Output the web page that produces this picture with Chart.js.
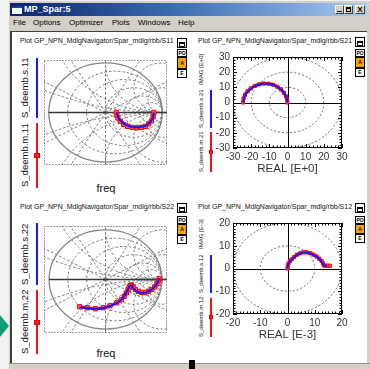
<!DOCTYPE html>
<html>
<head>
<meta charset="utf-8">
<script src="https://cdn.jsdelivr.net/npm/chart.js@4.4.0/dist/chart.umd.min.js"></script>
<style>
html,body{margin:0;padding:0;width:370px;height:369px;overflow:hidden;background:#f1f1f1;font-family:"Liberation Sans",Arial,sans-serif;}
div,span,canvas{position:absolute;}
#win{left:9px;top:1px;width:361px;height:368px;background:#d4d0c8;}
#tb{left:10px;top:3px;width:357px;height:13px;background:linear-gradient(90deg,#0a246a 0%,#3a6ab0 45%,#a6caf0 100%);}
#ticon{left:2px;top:3px;width:10px;height:8px;background:#fff;border-top:2px solid #1c3c9c;box-sizing:border-box;}
#ttl{left:14px;top:1px;color:#fff;font-weight:bold;font-size:9px;line-height:11px;}
.wb{top:5px;width:9px;height:9px;background:#d4d0c8;border:1px solid;border-color:#fff #404040 #404040 #fff;box-sizing:border-box;font-size:8px;line-height:7px;text-align:center;font-weight:bold;color:#000;}
.menu{top:18px;font-size:8px;line-height:10px;color:#000;}
#panel{left:10px;top:31px;width:357px;height:332px;background:#fff;border-left:2px solid #404040;border-top:1px solid #404040;box-sizing:border-box;}
.ptitle{font-size:7px;line-height:8px;color:#111;white-space:nowrap;}
.icon{width:10px;height:10px;border:1px solid #000;box-sizing:border-box;background:#fff;}
.icon div{left:1px;top:3px;width:6px;height:5px;border:1px solid #000;border-top-width:2px;box-sizing:border-box;}
.btn{width:10px;border:1px solid #000;box-sizing:border-box;background:#fff;font-size:5px;font-weight:bold;text-align:center;color:#000;}
.btn.on{background:#f5a300;}
.vt{writing-mode:vertical-rl;transform:rotate(180deg);text-align:center;white-space:nowrap;color:#111;}
.big{font-size:9.5px;line-height:10px;width:10px;}
.sm{font-size:6px;line-height:7px;width:7px;}
.bl{background:#1a1aff;width:2px;}
.rl{background:#ff1010;width:2px;}
.sq{background:#ff2020;border:1px solid #e00000;box-sizing:border-box;}
.freq{font-size:11px;line-height:13px;width:40px;text-align:center;color:#111;}
</style>
</head>
<body>
<div id="win"></div>
<div id="tb"><div id="ticon"></div><span id="ttl">MP_Spar:5</span></div>
<div class="wb" style="left:335px;top:5px;"><span style="left:1px;top:5px;width:5px;height:1px;background:#000;"></span></div>
<div class="wb" style="left:344px;top:5px;"><span style="left:1px;top:1px;width:5px;height:5px;border:1px solid #000;border-top-width:2px;box-sizing:border-box;"></span></div>
<div class="wb" style="left:355px;top:5px;width:10px;">X</div>
<span class="menu" style="left:13px">File</span>
<span class="menu" style="left:33px">Options</span>
<span class="menu" style="left:69px">Optimizer</span>
<span class="menu" style="left:112px">Plots</span>
<span class="menu" style="left:138px">Windows</span>
<span class="menu" style="left:178px">Help</span>
<div id="panel"></div>
<div style="left:9px;top:363px;width:361px;height:6px;background:#d4d0c8;border-top:1px solid #909090;box-sizing:border-box;"></div>
<div style="left:189px;top:360px;width:6px;height:9px;background:#000;"></div>
<div style="left:0px;top:315px;width:0;height:0;border-top:11px solid transparent;border-bottom:11px solid transparent;border-left:9px solid #159a78;"></div>

<!-- plot headers -->
<span class="ptitle" style="left:20px;top:37px;">Plot GP_NPN_MdlgNavigator/Spar_mdlg/rbb/S11</span>
<span class="ptitle" style="left:198px;top:37px;">Plot GP_NPN_MdlgNavigator/Spar_mdlg/rbb/S21</span>
<span class="ptitle" style="left:20px;top:203px;">Plot GP_NPN_MdlgNavigator/Spar_mdlg/rbb/S22</span>
<span class="ptitle" style="left:198px;top:203px;">Plot GP_NPN_MdlgNavigator/Spar_mdlg/rbb/S12</span>

<div class="icon" style="left:177px;top:38px;"><div></div></div>
<div class="btn" style="left:177px;top:49px;height:8px;line-height:6px;">PO</div>
<div class="btn on" style="left:177px;top:57px;height:12px;line-height:10px;">A</div>
<div class="btn" style="left:177px;top:69px;height:9px;line-height:7px;">E</div>

<div class="icon" style="left:355px;top:37px;"><div></div></div>
<div class="btn" style="left:355px;top:49px;height:8px;line-height:6px;">PO</div>
<div class="btn on" style="left:355px;top:57px;height:11px;line-height:9px;">A</div>
<div class="btn" style="left:355px;top:68px;height:9px;line-height:7px;">E</div>

<div class="icon" style="left:177px;top:203px;"><div></div></div>
<div class="btn" style="left:177px;top:216px;height:8px;line-height:6px;">PO</div>
<div class="btn on" style="left:177px;top:224px;height:11px;line-height:9px;">A</div>
<div class="btn" style="left:177px;top:235px;height:9px;line-height:7px;">E</div>

<div class="icon" style="left:355px;top:203px;"><div></div></div>
<div class="btn" style="left:355px;top:216px;height:8px;line-height:6px;">PO</div>
<div class="btn on" style="left:355px;top:224px;height:10px;line-height:8px;">A</div>
<div class="btn" style="left:355px;top:234px;height:9px;line-height:7px;">E</div>

<!-- trace keys, S11 -->
<div class="vt big" style="left:20px;top:58px;height:60px;">S_deemb.s.11</div>
<div class="bl" style="left:36px;top:58px;height:60px;"></div>
<div class="vt big" style="left:20px;top:123px;height:65px;">S_deemb.m.11</div>
<div class="rl" style="left:36px;top:123px;height:65px;"></div>
<div class="sq" style="left:34px;top:153px;width:6px;height:5px;"></div>
<div class="freq" style="left:86px;top:182px;">freq</div>

<!-- trace keys, S22 -->
<div class="vt big" style="left:20px;top:223px;height:62px;">S_deemb.s.22</div>
<div class="bl" style="left:36px;top:223px;height:62px;"></div>
<div class="vt big" style="left:20px;top:290px;height:64px;">S_deemb.m.22</div>
<div class="rl" style="left:36px;top:290px;height:64px;"></div>
<div class="sq" style="left:34px;top:320px;width:6px;height:5px;"></div>
<div class="freq" style="left:86px;top:347px;">freq</div>

<!-- trace keys, S21 -->
<div class="vt sm" style="left:198px;top:53px;height:32px;">IMAG [E+0]</div>
<div class="vt sm" style="left:198px;top:90px;height:38px;">S_deemb.s.21</div>
<div class="bl" style="left:210px;top:90px;height:38px;"></div>
<div class="vt sm" style="left:198px;top:132px;height:40px;">S_deemb.m.21</div>
<div class="rl" style="left:210px;top:132px;height:40px;"></div>
<div class="sq" style="left:209px;top:150px;width:4px;height:4px;"></div>

<!-- trace keys, S12 -->
<div class="vt sm" style="left:198px;top:218px;height:32px;">IMAG [E-3]</div>
<div class="vt sm" style="left:198px;top:255px;height:38px;">S_deemb.s.12</div>
<div class="bl" style="left:210px;top:255px;height:38px;"></div>
<div class="vt sm" style="left:198px;top:298px;height:39px;">S_deemb.m.12</div>
<div class="rl" style="left:210px;top:298px;height:39px;"></div>
<div class="sq" style="left:209px;top:315px;width:4px;height:4px;"></div>

<canvas id="c11" width="133" height="115" style="left:39px;top:55px;"></canvas>
<canvas id="c22" width="133" height="117" style="left:39px;top:221px;"></canvas>
<canvas id="c21" width="165" height="128" style="left:190px;top:48px;"></canvas>
<canvas id="c12" width="165" height="128" style="left:190px;top:214px;"></canvas>

<script>
// ---- S11 reflection coefficient (measured m, simulated s) ----
const m11Re = [0.85, 0.84, 0.81, 0.76, 0.70, 0.63, 0.55, 0.47, 0.39, 0.32, 0.26, 0.22, 0.20, 0.19];
const m11Im = [0.00, -0.09, -0.17, -0.23, -0.28, -0.30, -0.31, -0.30, -0.28, -0.24, -0.18, -0.11, -0.05, 0.00];
const s11Re = [0.85, 0.84, 0.81, 0.76, 0.70, 0.63, 0.55, 0.47, 0.40, 0.33, 0.27, 0.23, 0.21, 0.20];
const s11Im = [0.00, -0.08, -0.16, -0.22, -0.27, -0.29, -0.30, -0.29, -0.27, -0.23, -0.17, -0.11, -0.05, 0.00];

// ---- S22 ----
const m22Re = [0.95, 0.94, 0.91, 0.87, 0.82, 0.76, 0.70, 0.64, 0.58, 0.53, 0.49, 0.46, 0.44, 0.42, 0.40, 0.37, 0.33, 0.28, 0.20, 0.08, -0.04, -0.18, -0.32, -0.46];
const m22Im = [0.02, -0.03, -0.09, -0.15, -0.20, -0.24, -0.26, -0.26, -0.24, -0.20, -0.15, -0.11, -0.12, -0.16, -0.21, -0.27, -0.34, -0.41, -0.47, -0.53, -0.57, -0.59, -0.57, -0.55];
const s22Re = [0.95, 0.93, 0.90, 0.86, 0.81, 0.75, 0.69, 0.63, 0.57, 0.52, 0.48, 0.45, 0.43, 0.41, 0.39, 0.36, 0.32, 0.27, 0.19, 0.07, -0.05, -0.19, -0.33, -0.46];
const s22Im = [0.02, -0.04, -0.10, -0.16, -0.21, -0.25, -0.27, -0.27, -0.25, -0.21, -0.16, -0.12, -0.13, -0.17, -0.22, -0.28, -0.35, -0.42, -0.48, -0.54, -0.58, -0.59, -0.58, -0.56];

// ---- S21 (E+0) ----
const m21Re = [-24.5, -24.2, -23.4, -22.0, -20.2, -18.0, -15.6, -13.0, -10.4, -7.9, -5.6, -3.6, -2.0, -0.8, -0.2, 0.0];
const m21Im = [0.0, 2.6, 5.1, 7.4, 9.3, 10.9, 12.0, 12.5, 12.4, 11.7, 10.4, 8.6, 6.4, 4.0, 1.8, 0.0];
const s21Re = [-24.3, -24.0, -23.2, -21.8, -20.0, -17.8, -15.4, -12.9, -10.3, -7.8, -5.5, -3.5, -1.9, -0.8, -0.2, 0.0];
const s21Im = [0.0, 2.5, 5.0, 7.3, 9.2, 10.8, 11.9, 12.4, 12.3, 11.6, 10.3, 8.5, 6.3, 3.9, 1.7, 0.0];

// ---- S12 (E-3) ----
const m12Re = [0.0, 0.1, 0.3, 0.8, 1.5, 2.4, 3.4, 4.6, 5.8, 7.0, 8.3, 9.5, 10.7, 11.7, 12.5, 13.0, 13.4, 14.0, 14.8, 15.6];
const m12Im = [0.0, 1.0, 2.0, 3.1, 4.0, 5.0, 6.0, 6.7, 7.1, 7.1, 6.7, 6.1, 5.3, 4.3, 3.3, 2.3, 1.3, 1.2, 1.3, 1.2];
const s12Re = [0.0, 0.1, 0.3, 0.8, 1.5, 2.4, 3.4, 4.6, 5.8, 7.0, 8.2, 9.4, 10.6, 11.6, 12.4, 13.0, 13.4, 14.0, 14.6];
const s12Im = [0.0, 1.0, 2.0, 3.0, 3.9, 4.9, 5.9, 6.6, 7.0, 7.0, 6.6, 6.0, 5.2, 4.2, 3.2, 2.2, 1.3, 1.2, 1.2];

// axis ranges and grid circles for the two polar frames
const s21Range = [-30, 30];
const s12Range = [-20, 20];
const s21Rings = [10, 20, 30];
const s12Rings = [10, 20];

// Smith chart grid values
const rCircles = [0.2, 0.5, 1, 2, 4];
const xCircles = [0.2, 0.5, 1, 2, 4];
const phaseLines = [30, 60, 90, 120, 150, 210, 240, 270, 300, 330];

Chart.defaults.font.family = "'Liberation Sans', Arial, sans-serif";

const pts = (re, im) => re.map((v, i) => ({x: v, y: im[i]}));

function measured(re, im, size) {
  return {data: pts(re, im), showLine: true, borderColor: '#ff0000', borderWidth: 3,
    pointStyle: 'rect', pointRadius: size, pointBackgroundColor: '#ff5a5a',
    pointBorderColor: '#ff0000', pointBorderWidth: 1, tension: 0.3, order: 2};
}
function simulated(re, im) {
  return {data: pts(re, im), showLine: true, borderColor: '#1515ff', borderWidth: 2,
    pointRadius: 0, tension: 0.3, order: 1};
}

const smithGrid = {
  id: 'smithGrid',
  beforeDatasetsDraw(chart) {
    const {ctx, chartArea: a, scales: {x, y}} = chart;
    const px = v => x.getPixelForValue(v), py = v => y.getPixelForValue(v);
    const kx = px(1) - px(0), ky = py(0) - py(1);
    ctx.save();
    ctx.beginPath(); ctx.rect(a.left, a.top, a.width, a.height); ctx.clip();
    ctx.strokeStyle = '#7a7a7a'; ctx.lineWidth = 1; ctx.setLineDash([2.5, 2]);
    rCircles.forEach(r => {
      const c = r / (1 + r), rad = 1 / (1 + r);
      ctx.beginPath(); ctx.ellipse(px(c), py(0), rad * kx, rad * ky, 0, 0, 2 * Math.PI); ctx.stroke();
    });
    xCircles.forEach(xv => [1, -1].forEach(sg => {
      const rad = 1 / xv;
      ctx.beginPath(); ctx.ellipse(px(1), py(sg * rad), rad * kx, rad * ky, 0, 0, 2 * Math.PI); ctx.stroke();
    }));
    phaseLines.forEach(d => {
      const t = d * Math.PI / 180;
      ctx.beginPath(); ctx.moveTo(px(0), py(0)); ctx.lineTo(px(2 * Math.cos(t)), py(2 * Math.sin(t))); ctx.stroke();
    });
    ctx.setLineDash([]);
    ctx.strokeStyle = '#858585'; ctx.lineWidth = 1.3;
    ctx.beginPath(); ctx.ellipse(px(0), py(0), kx, ky, 0, 0, 2 * Math.PI); ctx.stroke();
    ctx.strokeStyle = '#383838'; ctx.lineWidth = 1.5;
    ctx.beginPath(); ctx.moveTo(px(-1), py(0)); ctx.lineTo(a.right, py(0)); ctx.stroke();
    ctx.restore();
    ctx.save();
    ctx.strokeStyle = '#404040'; ctx.lineWidth = 1; ctx.setLineDash([1, 2]);
    ctx.strokeRect(a.left + 0.5, a.top + 0.5, a.width - 1, a.height - 1);
    ctx.restore();
  }
};

const polarFrame = {
  id: 'polarFrame',
  beforeDatasetsDraw(chart, args, opts) {
    const {ctx, chartArea: a, scales: {x, y}} = chart;
    const px = v => x.getPixelForValue(v), py = v => y.getPixelForValue(v);
    const kx = px(1) - px(0), ky = py(0) - py(1);
    ctx.save();
    ctx.beginPath(); ctx.rect(a.left, a.top, a.width, a.height); ctx.clip();
    ctx.strokeStyle = '#666'; ctx.lineWidth = 1; ctx.setLineDash([2, 2]);
    opts.rings.forEach(r => {
      ctx.beginPath(); ctx.ellipse(px(0), py(0), r * kx, r * ky, 0, 0, 2 * Math.PI); ctx.stroke();
    });
    ctx.setLineDash([]);
    ctx.strokeStyle = '#000'; ctx.lineWidth = 1;
    ctx.beginPath();
    ctx.moveTo(a.left, Math.round(py(0)) + 0.5); ctx.lineTo(a.right, Math.round(py(0)) + 0.5);
    ctx.moveTo(Math.round(px(0)) + 0.5, a.top); ctx.lineTo(Math.round(px(0)) + 0.5, a.bottom);
    ctx.stroke();
    ctx.restore();
    ctx.save();
    ctx.strokeStyle = '#000'; ctx.lineWidth = 1;
    ctx.strokeRect(Math.round(a.left) + 0.5, Math.round(a.top) + 0.5, Math.round(a.width) - 1, Math.round(a.height) - 1);
    const [lo, hi] = opts.range, n = opts.minorPerMajor, step = 10 / n;
    const count = Math.round((hi - lo) / step);
    ctx.beginPath();
    for (let i = 0; i <= count; i++) {
      const v = lo + i * step, len = (i % n === 0) ? 4 : 2.5;
      const X = Math.round(px(v)) + 0.5, Y = Math.round(py(v)) + 0.5;
      ctx.moveTo(X, a.top); ctx.lineTo(X, a.top + len);
      ctx.moveTo(X, a.bottom); ctx.lineTo(X, a.bottom - len);
      ctx.moveTo(a.left, Y); ctx.lineTo(a.left + len, Y);
      ctx.moveTo(a.right, Y); ctx.lineTo(a.right - len, Y);
    }
    ctx.stroke();
    ctx.restore();
  }
};

function smithChart(id, meas, sim, limX, limY) {
  return new Chart(document.getElementById(id), {
    type: 'scatter',
    data: {datasets: [sim, meas]},
    options: {
      responsive: false, animation: false, events: [],
      layout: {padding: 2},
      scales: {
        x: {display: false, min: -limX, max: limX},
        y: {display: false, min: -limY, max: limY}
      },
      plugins: {legend: {display: false}, tooltip: {enabled: false}}
    },
    plugins: [smithGrid]
  });
}

function polarChart(id, meas, sim, range, rings, minorPerMajor, xTitle) {
  const tickFont = {size: 10};
  return new Chart(document.getElementById(id), {
    type: 'scatter',
    data: {datasets: [sim, meas]},
    options: {
      responsive: false, animation: false, events: [],
      layout: {padding: {left: 13, right: 13, top: 9, bottom: 0}},
      scales: {
        x: {
          min: range[0], max: range[1],
          grid: {display: false, drawTicks: false}, border: {display: false},
          ticks: {stepSize: 10, padding: 3, color: '#333', font: tickFont, maxRotation: 0, autoSkip: false},
          title: {display: true, text: xTitle, color: '#333', font: {size: 11.5}, padding: {top: 0, bottom: 0}},
          afterFit: s => { s.height = 28; }
        },
        y: {
          min: range[0], max: range[1],
          grid: {display: false, drawTicks: false}, border: {display: false},
          ticks: {stepSize: 10, padding: 3, color: '#333', font: tickFont, autoSkip: false},
          afterFit: s => { s.width = 30; }
        }
      },
      plugins: {legend: {display: false}, tooltip: {enabled: false},
        polarFrame: {range, rings, minorPerMajor}}
    },
    plugins: [polarFrame]
  });
}

smithChart('c11', measured(m11Re, m11Im, 3), simulated(s11Re, s11Im), 1.084, 1.06);
smithChart('c22', measured(m22Re, m22Im, 3), simulated(s22Re, s22Im), 1.09, 1.08);
polarChart('c21', measured(m21Re, m21Im, 2.2), simulated(s21Re, s21Im), s21Range, s21Rings, 5, 'REAL [E+0]');
polarChart('c12', measured(m12Re, m12Im, 2.2), simulated(s12Re, s12Im), s12Range, s12Rings, 8, 'REAL [E-3]');
</script>
</body>
</html>
